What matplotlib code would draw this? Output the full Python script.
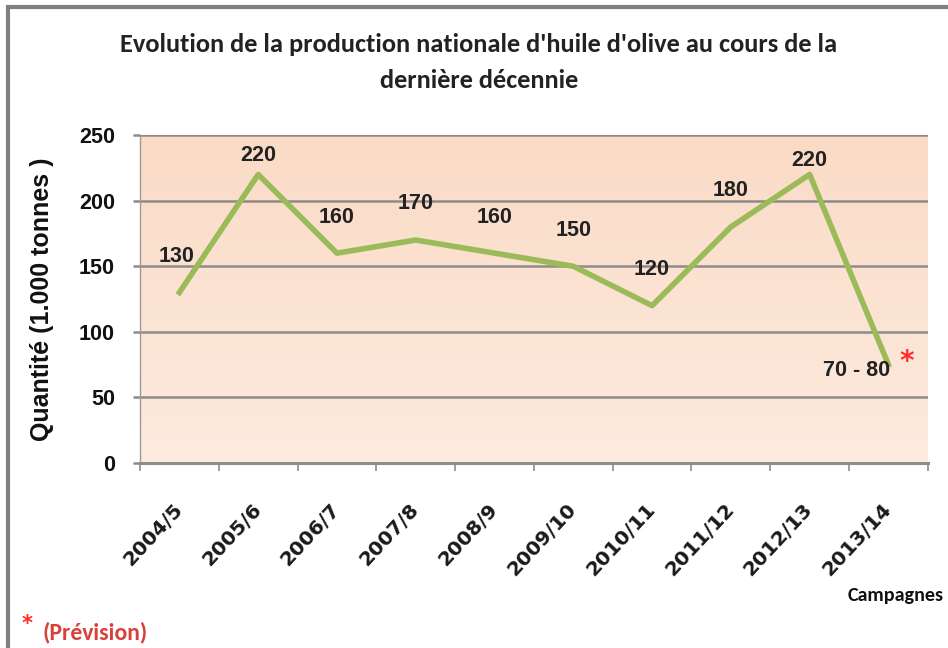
import numpy as np
import matplotlib.pyplot as plt
from matplotlib.patches import Rectangle
from matplotlib.colors import LinearSegmentedColormap

# campaign years and production (1.000 tonnes)
campagnes = ['2004/5', '2005/6', '2006/7', '2007/8', '2008/9',
             '2009/10', '2010/11', '2011/12', '2012/13', '2013/14']
production = [130, 220, 160, 170, 160, 150, 120, 180, 220, 75]
labels = ['130', '220', '160', '170', '160', '150', '120', '180', '220', '70 - 80']

calib = ['Carlito', 'DejaVu Sans']
arial = ['Liberation Sans', 'DejaVu Sans']

fig = plt.figure(figsize=(9.48, 6.48), dpi=100)
ax = fig.add_axes([0.1477, 0.2855, 0.831, 0.506])

# peach background, slightly darker at the top
grad = np.linspace(0, 1, 100).reshape(-1, 1)
cmap = LinearSegmentedColormap.from_list('peach', ['#fdebdf', '#fadbc6'])
ax.imshow(grad, cmap=cmap, aspect='auto', extent=[0, 1, 0, 1],
          transform=ax.transAxes, origin='lower', zorder=0)

x = np.arange(len(campagnes))
ax.plot(x, production, color='#9bbb59', lw=4, zorder=3)

ax.set_xlim(-0.5, len(campagnes) - 0.5)
ax.set_ylim(0, 250)
ax.set_yticks(range(0, 251, 50))
ax.yaxis.grid(True, color='#8e8b88', lw=1.8, zorder=1)
ax.set_axisbelow(True)

# data labels (Excel style, above the points; peaks closer)
for i, (v, lab) in enumerate(zip(production, labels)):
    if i == len(production) - 1:
        ax.annotate(lab, (i, v), xytext=(-23, -4), textcoords='offset points',
                    ha='center', va='center', fontsize=15.5, fontweight='bold',
                    family=arial, color='#222222', zorder=4)
        ax.annotate('*', (i, v), xytext=(13, 2), textcoords='offset points',
                    ha='center', va='center', fontsize=20, fontweight='bold',
                    color='#ff2a2a', zorder=4)
    else:
        dy = 26
        if v >= 220:
            dy = 14 if i < 5 else 10
        ax.annotate(lab, (i, v), xytext=(-2 if i == 0 else 0, dy),
                    textcoords='offset points', ha='center', va='center',
                    fontsize=15.5, fontweight='bold', family=arial,
                    color='#222222', zorder=4)

# category axis: ticks between categories, labels at centres
ax.set_xticks(np.arange(-0.5, len(campagnes)))
ax.set_xticklabels([])
ax.set_xticks(x, minor=True)
ax.set_xticklabels(campagnes, minor=True, rotation=47, ha='right', va='center',
                   rotation_mode='anchor', fontsize=14.5, fontweight='bold',
                   family=['DejaVu Sans'], color='#1a1a1a')
ax.tick_params(axis='x', which='minor', length=0, pad=31)
ax.tick_params(axis='x', which='major', length=6, width=1.2, color='#8c8c8c')
ax.tick_params(axis='y', length=5, width=1.8, color='#8e8b88', pad=13)
for t in ax.get_yticklabels():
    t.set_fontweight('bold')
    t.set_fontsize(15.5)
    t.set_family(arial)
    t.set_color('#111111')

for s in ['top', 'right']:
    ax.spines[s].set_visible(False)
ax.spines['left'].set_color('#a09a96')
ax.spines['left'].set_linewidth(1)
ax.spines['bottom'].set_color('#8e8b88')
ax.spines['bottom'].set_linewidth(2.2)

ax.set_ylabel('Quantité (1.000 tonnes )', fontsize=18, fontweight='bold',
              family=arial, color='#111111')
ax.yaxis.set_label_coords(-0.109, 0.5)

fig.text(0.505, 0.932, "Evolution de la production nationale d'huile d'olive au cours de la",
         ha='center', va='center', fontsize=19, fontweight='bold',
         family=calib, color='#222222')
fig.text(0.505, 0.876, 'dernière décennie', ha='center', va='center',
         fontsize=19, fontweight='bold', family=calib, color='#222222')
fig.text(848 / 948, 1 - 595 / 648, 'Campagnes', ha='left', va='center',
         fontsize=14.5, fontweight='bold', family=calib, color='#111111')
fig.text(27 / 948, 1 - 624 / 648, '*', ha='center', va='center', fontsize=15,
         fontweight='bold', color='#ff2a2a')
fig.text(42 / 948, 1 - 632 / 648, '(Prévision)', ha='left', va='center',
         fontsize=17, fontweight='bold', family=calib, color='#d9403a')

# grey frame around the chart
fig.patches.append(Rectangle((8 / 948, -0.05), 1.0, 1 - 7 / 648 + 0.05,
                             transform=fig.transFigure, fill=False,
                             edgecolor='#7f7f7f', lw=3))

fig.savefig('out.png', dpi=100)
